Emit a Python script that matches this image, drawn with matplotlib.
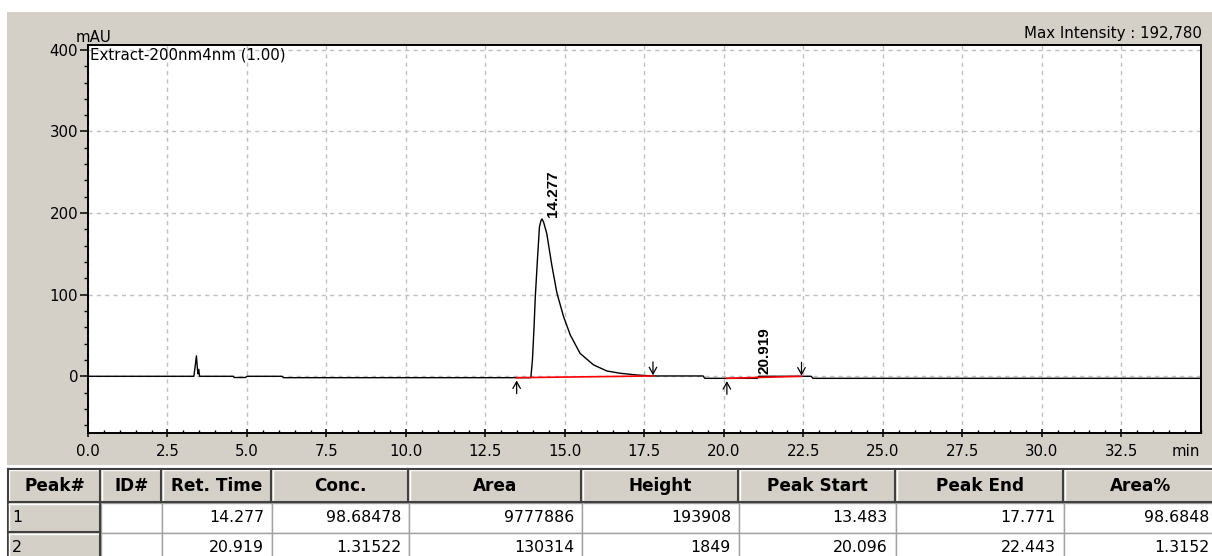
import numpy as np
import matplotlib
matplotlib.use('Agg')
import matplotlib.pyplot as plt
from matplotlib.patches import Rectangle
from matplotlib.ticker import MultipleLocator

# chromatogram trace (min, mAU)
time_min = [0.0, 3.33, 3.37, 3.41, 3.44, 3.46, 3.48, 3.51, 4.57, 4.60, 4.95, 5.00,
            6.10, 6.15, 13.93, 13.98, 14.03, 14.07, 14.14, 14.20, 14.25, 14.28,
            14.33, 14.43, 14.59, 14.75, 14.96, 15.17, 15.48, 15.90, 16.32, 16.74,
            17.26, 17.74, 19.35, 19.40, 21.05, 21.10, 22.75, 22.80, 35.0]
signal_mau = [0.0, 0.0, 12.0, 25.0, 10.0, 3.0, 8.5, 0.0, 0.0, -1.5, -1.5, 0.0,
              0.0, -1.7, -1.7, 20.0, 60.0, 97.5, 145.0, 183.0, 191.0, 192.8,
              189.0, 175.0, 136.0, 102.0, 73.0, 50.6, 28.0, 14.0, 6.5, 3.7,
              1.6, 0.4, 0.4, -2.5, -2.5, 0.0, 0.0, -2.5, -2.5]

# peak table
table_headers = ['Peak#', 'ID#', 'Ret. Time', 'Conc.', 'Area', 'Height',
                 'Peak Start', 'Peak End', 'Area%']
peak_no = ['1', '2']
peak_id = ['', '']
ret_time = [14.277, 20.919]
conc = [98.68478, 1.31522]
area = [9777886, 130314]
height = [193908, 1849]
peak_start = [13.483, 20.096]
peak_end = [17.771, 22.443]
area_pct = [98.6848, 1.3152]

# baseline level at peak start / end (mAU)
base_start = [-1.7, -2.5]
base_end = [0.4, 0.0]

trace_name = 'Extract-200nm4nm (1.00)'
max_intensity = 192780

GRAY = '#d4d0c8'
plt.rcParams['font.family'] = 'DejaVu Sans'
plt.rcParams['font.size'] = 10.8

W, H = 1212, 556
fig = plt.figure(figsize=(W / 100, H / 100), dpi=100)

# background / table layer in pixel coordinates
bg = fig.add_axes([0, 0, 1, 1])
bg.set_xlim(0, W)
bg.set_ylim(H, 0)
bg.axis('off')
bg.add_patch(Rectangle((7, 12), W - 7, 453, facecolor=GRAY, edgecolor='none'))

bg.text(76, 42, 'mAU', ha='left', va='baseline')
bg.text(1202, 38, 'Max Intensity : {:,}'.format(max_intensity), ha='right', va='baseline')
bg.text(1200, 451, 'min', ha='right', va='center')

# --- chromatogram
x0, x1, y_top, y_bot = 88, 1200.7, 44.5, 433
ax = fig.add_axes([x0 / W, (H - y_bot) / H, (x1 - x0) / W, (y_bot - y_top) / H])
ax.set_facecolor('white')
ax.set_xlim(0, 35)
ax.set_ylim(-69.5, 406.6)

ax.set_xticks(np.arange(0, 33, 2.5))
ax.set_xticklabels(['%.1f' % v for v in np.arange(0, 33, 2.5)])
ax.xaxis.set_minor_locator(MultipleLocator(0.5))
ax.set_yticks([0, 100, 200, 300, 400])
ax.yaxis.set_minor_locator(MultipleLocator(20))
ax.tick_params(axis='x', which='major', direction='inout', length=6, width=1.1, pad=5)
ax.tick_params(axis='x', which='minor', direction='in', length=2.5, width=1.0)
ax.tick_params(axis='y', which='major', direction='out', length=6, width=1.1, pad=1)
ax.tick_params(axis='y', which='minor', direction='out', length=3, width=1.0)
for s in ax.spines.values():
    s.set_linewidth(1.4)
    s.set_color('black')

ax.grid(True, which='major', color='#c0c0c0', linestyle=(0, (3, 3)), linewidth=1.0)
ax.set_axisbelow(True)

ax.plot(time_min, signal_mau, color='black', lw=1.0, zorder=3)

for i in range(len(ret_time)):
    ax.plot([peak_start[i], peak_end[i]], [base_start[i], base_end[i]],
            color='red', lw=1.2, zorder=4)
    ax.annotate('', xy=(peak_start[i], base_start[i]), xytext=(0, -16),
                textcoords='offset pixels',
                arrowprops=dict(arrowstyle='->,head_width=0.25,head_length=0.45',
                                lw=0.9, color='black', shrinkA=0, shrinkB=2))
    ax.annotate('', xy=(peak_end[i], base_end[i]), xytext=(0, 14),
                textcoords='offset pixels',
                arrowprops=dict(arrowstyle='->,head_width=0.25,head_length=0.45',
                                lw=0.9, color='black', shrinkA=0, shrinkB=0.5))
    ax.annotate('%.3f' % ret_time[i], xy=(ret_time[i], height[i] / 1000.0),
                xytext=(4, 1), textcoords='offset pixels', rotation=90,
                ha='left', va='bottom', fontsize=11, fontweight='bold',
                family='Liberation Sans', zorder=5)

ax.annotate(trace_name, xy=(0, 1), xycoords='axes fraction', xytext=(2, -3),
            textcoords='offset pixels', ha='left', va='top')

# --- peak table
col_edges = [8, 101, 162, 272, 409, 582, 739, 896, 1064, 1217]
row_edges = [469, 503, 533, 563]
DARK = '#404040'
GRID = '#a0a0a0'


def bevel(x_a, x_b, y_a, y_b):
    bg.add_patch(Rectangle((x_a, y_a), x_b - x_a, y_b - y_a, facecolor=GRAY, edgecolor='none'))
    bg.plot([x_a + 1, x_b - 1], [y_a + 1, y_a + 1], color='white', lw=1.0)
    bg.plot([x_a + 1, x_a + 1], [y_a + 1, y_b - 1], color='white', lw=1.0)
    bg.plot([x_a, x_b - 1], [y_b - 1, y_b - 1], color=DARK, lw=1.5)
    bg.plot([x_b - 1, x_b - 1], [y_a, y_b - 1], color=DARK, lw=1.5)


# header
for j, name in enumerate(table_headers):
    bevel(col_edges[j], col_edges[j + 1], row_edges[0], row_edges[1])
    bg.text((col_edges[j] + col_edges[j + 1]) / 2, (row_edges[0] + row_edges[1]) / 2,
            name, ha='center', va='center', fontsize=12.2, fontweight='bold')
bg.plot([col_edges[0], W], [row_edges[0], row_edges[0]], color=DARK, lw=1.5)
bg.plot([col_edges[0], col_edges[0]], [row_edges[0], H], color=DARK, lw=1.5)

# rows
columns = [peak_id,
           ['%.3f' % v for v in ret_time],
           ['%.5f' % v for v in conc],
           ['%d' % v for v in area],
           ['%d' % v for v in height],
           ['%.3f' % v for v in peak_start],
           ['%.3f' % v for v in peak_end],
           ['%.4f' % v for v in area_pct]]
for i in range(len(peak_no)):
    ya, yb = row_edges[i + 1], row_edges[i + 2]
    yc = (ya + yb) / 2
    for j in range(1, len(col_edges) - 1):
        bg.add_patch(Rectangle((col_edges[j], ya), col_edges[j + 1] - col_edges[j], yb - ya,
                               facecolor='white', edgecolor=GRID, lw=1.0))
        bg.text(col_edges[j + 1] - 8, yc, columns[j - 1][i], ha='right', va='center',
                fontsize=11.3)
    bevel(col_edges[0], col_edges[1], ya, yb)
    bg.text(col_edges[0] + 4, yc, peak_no[i], ha='left', va='center', fontsize=11.3)

fig.savefig('out.png', dpi=100)
